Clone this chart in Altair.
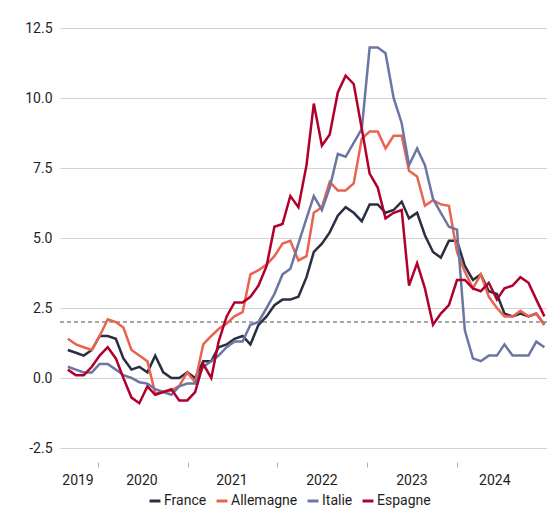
import altair as alt
import pandas as pd

# Monthly observations, Aug 2019 - Aug 2024 (y/y inflation, %)
months = [d.strftime("%Y-%m-%d") for d in pd.date_range("2019-08-01", "2024-08-01", freq="MS")]

france = [1.0, 0.9, 0.8, 1.0, 1.5,
          1.5, 1.4, 0.7, 0.3, 0.4, 0.2, 0.8, 0.2, 0.0, 0.0, 0.2, 0.0,
          0.6, 0.6, 1.1, 1.2, 1.4, 1.5, 1.2, 1.9, 2.2, 2.6, 2.8, 2.8,
          2.9, 3.6, 4.5, 4.8, 5.2, 5.8, 6.1, 5.9, 5.6, 6.2, 6.2, 5.9,
          6.0, 6.3, 5.7, 5.9, 5.1, 4.5, 4.3, 4.9, 4.9, 4.0, 3.5, 3.7,
          3.1, 3.0, 2.3, 2.2, 2.3, 2.2, 2.3, 1.9]
allemagne = [1.4, 1.2, 1.1, 1.0, 1.5,
             2.1, 2.0, 1.8, 1.0, 0.8, 0.6, -0.55, -0.5, -0.45, -0.28, 0.2, -0.15,
             1.2, 1.5, 1.75, 1.95, 2.2, 2.35, 3.7, 3.85, 4.05, 4.35, 4.8, 4.9,
             4.2, 4.35, 5.9, 6.1, 7.0, 6.7, 6.7, 6.95, 8.55, 8.8, 8.8, 8.2,
             8.65, 8.65, 7.4, 7.2, 6.15, 6.35, 6.2, 6.15, 4.5, 3.8, 3.2, 3.7,
             2.9, 2.5, 2.2, 2.2, 2.4, 2.2, 2.3, 1.9]
italie = [0.4, 0.3, 0.2, 0.2, 0.5,
          0.5, 0.3, 0.1, 0.0, -0.15, -0.2, -0.4, -0.5, -0.6, -0.3, -0.2, -0.2,
          0.4, 0.6, 0.8, 1.1, 1.3, 1.3, 1.9, 2.0, 2.5, 3.0, 3.7, 3.9,
          4.8, 5.7, 6.5, 6.0, 6.8, 8.0, 7.9, 8.4, 8.9, 11.8, 11.8, 11.6,
          10.0, 9.1, 7.6, 8.2, 7.6, 6.4, 5.9, 5.4, 5.3, 1.7, 0.7, 0.6,
          0.8, 0.8, 1.2, 0.8, 0.8, 0.8, 1.3, 1.1]
espagne = [0.3, 0.1, 0.1, 0.4, 0.8,
           1.1, 0.7, 0.0, -0.7, -0.9, -0.3, -0.6, -0.5, -0.4, -0.8, -0.8, -0.5,
           0.5, 0.0, 1.3, 2.2, 2.7, 2.7, 2.9, 3.3, 4.0, 5.4, 5.5, 6.5,
           6.1, 7.6, 9.8, 8.3, 8.7, 10.2, 10.8, 10.5, 8.9, 7.3, 6.8, 5.7,
           5.9, 6.0, 3.3, 4.1, 3.2, 1.9, 2.3, 2.6, 3.5, 3.5, 3.2, 3.1,
           3.4, 2.8, 3.2, 3.3, 3.6, 3.4, 2.8, 2.2]

countries = ["France", "Allemagne", "Italie", "Espagne"]
series = [france, allemagne, italie, espagne]
colors = ["#2a2e42", "#e9644e", "#6c76a4", "#b1002c"]

target = [2.0]
y_ticks = [-2.5, 0.0, 2.5, 5.0, 7.5, 10.0, 12.5]

# x-axis tick marks and year label positions
x_tick_dates = [(2019, 11, 23), (2020, 11, 2), (2021, 10, 10), (2022, 9, 20), (2023, 8, 31)]
year_labels = ["2019", "2020", "2021", "2022", "2023", "2024"]
year_label_dates = ["2019-09-09", "2020-05-11", "2021-04-21", "2022-04-01", "2023-03-12", "2024-01-24"]

FONT = "Roboto, Liberation Sans, sans-serif"
TXT = "#1e1e1e"
FS = 14

rows = []
for name, vals in zip(countries, series):
    for m, v in zip(months, vals):
        rows.append({"date": m, "pays": name, "valeur": v})
df = pd.DataFrame(rows)

x_scale = alt.Scale(domain=[alt.DateTime(year=2019, month=7, date=2, utc=True),
                            alt.DateTime(year=2024, month=8, date=11, utc=True)])
y_scale = alt.Scale(domain=[-3, 13], nice=False, zero=False)

x_axis = alt.Axis(values=[alt.DateTime(year=a, month=b, date=c, utc=True) for a, b, c in x_tick_dates],
                  labels=False, grid=False, domain=False, ticks=True, tickSize=5,
                  tickColor="#b0b0b0", tickWidth=1, title=None)
y_axis = alt.Axis(values=y_ticks, grid=True, gridColor="#d2d2d2", gridWidth=1,
                  domain=False, ticks=False, labelPadding=8, labelFontSize=FS,
                  labelFont=FONT, labelColor=TXT, title=None,
                  labelExpr="datum.value < 0 ? '-' + format(-datum.value, '.1f') : format(datum.value, '.1f')")

lines = alt.Chart(df).mark_line(strokeWidth=2.5).encode(
    x=alt.X("date:T", scale=x_scale, axis=x_axis),
    y=alt.Y("valeur:Q", scale=y_scale, axis=y_axis),
    color=alt.Color("pays:N", sort=countries,
                    scale=alt.Scale(domain=countries, range=colors),
                    legend=alt.Legend(orient="none", legendX=88, legendY=480,
                                      direction="horizontal", title=None,
                                      symbolType="stroke", symbolStrokeWidth=3,
                                      symbolSize=120, labelFontSize=FS, labelFont=FONT,
                                      labelColor=TXT, columnPadding=3, labelOffset=2)),
    detail="pays:N",
)

rule = alt.Chart(pd.DataFrame({"v": target})).mark_rule(
    color="#8c8c8c", strokeDash=[4, 3], strokeWidth=1.5
).encode(y=alt.Y("v:Q", scale=y_scale))

years = alt.Chart(pd.DataFrame({"d": year_label_dates, "t": year_labels})).mark_text(
    fontSize=FS, font=FONT, color=TXT, baseline="middle", align="center"
).encode(x=alt.X("d:T", scale=x_scale), y=alt.value(466.5), text="t:N")

chart = alt.layer(rule, lines, years).properties(
    width=487, height=448,
    autosize=alt.AutoSizeParams(type="none"),
    padding={"left": 52, "top": 6, "right": 0, "bottom": 46},
).configure_view(stroke=None)

chart.save("out.html", embed_options={"renderer": "svg", "actions": False})
